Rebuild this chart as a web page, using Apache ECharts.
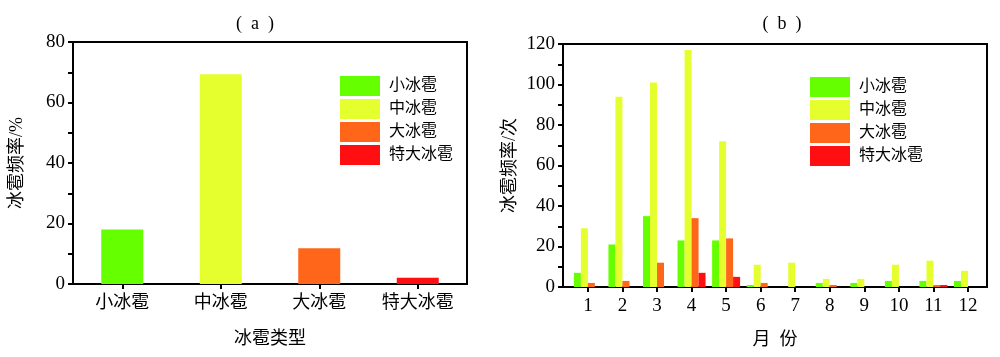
<!DOCTYPE html>
<html><head><meta charset="utf-8">
<script src="https://cdn.jsdelivr.net/npm/echarts@6/dist/echarts.min.js"></script>
<style>html,body{margin:0;padding:0;background:#fff}#c{width:1000px;height:357px}</style>
</head><body><div id="c"></div>
<script>
const typeNames = ['小冰雹', '中冰雹', '大冰雹', '特大冰雹'];
const typeColors = ['#66ff00', '#e5ff2e', '#ff6619', '#ff0f12'];
const typeFreq = [18, 69.3, 11.8, 2.1];
const months = [1,2,3,4,5,6,7,8,9,10,11,12];
const smallHail = [7, 21, 35, 23, 23, 1, 0, 2, 2, 3, 3, 3];
const mediumHail = [29, 94, 101, 117, 72, 11, 12, 4, 4, 11, 13, 8];
const largeHail = [2, 3, 12, 34, 24, 2, 0, 1, 0, 0, 1, 0];
const hugeHail = [0, 0, 0, 7, 5, 0, 0, 0, 0, 0, 1, 0];
const yTicksA = [0, 20, 40, 60, 80];
const yTicksB = [0, 20, 40, 60, 80, 100, 120];

const FONT = "Liberation Serif, Noto Sans CJK SC, serif";
const chart = echarts.init(document.getElementById('c'));
const axisLine = {show: true, lineStyle: {color: '#000', width: 2}};
const tickStyle = {show: true, inside: false, length: 5, lineStyle: {color: '#000', width: 2}};
const minorStyle = {show: true, splitNumber: 2, length: 5, lineStyle: {color: '#000', width: 2}};
const numLabel = {fontFamily: FONT, fontSize: 19, color: '#000'};
const cjkText = {fontFamily: FONT, fontSize: 18, color: '#000'};

const monthSeries = [smallHail, mediumHail, largeHail, hugeHail].map((arr, i) => ({
  name: typeNames[i], type: 'bar', xAxisIndex: 1, yAxisIndex: 1,
  barWidth: 7, barGap: '0%',
  itemStyle: {color: typeColors[i]},
  data: arr.map((v, j) => [months[j], v])
}));

const titleStyle = {fontFamily: FONT, fontSize: 18, fontWeight: 'normal', color: '#000'};

const option = {
  backgroundColor: '#fff',
  animation: false,
  textStyle: {fontFamily: FONT},
  title: [
    {text: '(  a  )', left: 250, top: 10, textAlign: 'center', textStyle: titleStyle},
    {text: '(  b  )', left: 777, top: 10, textAlign: 'center', textStyle: titleStyle}
  ],
  legend: [
    {orient: 'vertical', left: 335, top: 71, itemWidth: 40, itemHeight: 20, itemGap: 3, icon: 'rect',
     data: typeNames.map((n, i) => ({name: n, itemStyle: {color: typeColors[i]}})),
     selectedMode: false, textStyle: {fontFamily: FONT, fontSize: 16, color: '#000', padding: [0, 0, 0, 4]}},
    {orient: 'vertical', left: 805, top: 72, itemWidth: 40, itemHeight: 20, itemGap: 3, icon: 'rect',
     data: typeNames, selectedMode: false,
     textStyle: {fontFamily: FONT, fontSize: 16, color: '#000', padding: [0, 0, 0, 4]}}
  ],
  grid: [
    {left: 73, right: 533, top: 42, bottom: 73, show: true, borderColor: '#000', borderWidth: 2, backgroundColor: 'transparent'},
    {left: 563, right: 13, top: 44, bottom: 70, show: true, borderColor: '#000', borderWidth: 2, backgroundColor: 'transparent'}
  ],
  xAxis: [
    {type: 'category', gridIndex: 0, data: typeNames, boundaryGap: true,
     name: '冰雹类型', nameLocation: 'middle', nameGap: 46,
     nameTextStyle: cjkText,
     axisLine: axisLine, axisTick: Object.assign({alignWithLabel: true}, tickStyle),
     axisLabel: Object.assign({margin: 10}, cjkText),
     splitLine: {show: false}},
    {type: 'value', gridIndex: 1, min: 0.28, max: 12.55,
     name: '月  份', nameLocation: 'middle', nameGap: 44,
     nameTextStyle: cjkText,
     axisLine: axisLine,
     axisTick: Object.assign({customValues: months}, tickStyle),
     axisLabel: Object.assign({customValues: months, margin: 10}, numLabel),
     splitLine: {show: false}}
  ],
  yAxis: [
    {type: 'value', gridIndex: 0, min: 0, max: 80, interval: 20,
     name: '冰雹频率/%', nameLocation: 'middle', nameGap: 47,
     nameTextStyle: cjkText,
     axisLine: axisLine, axisTick: tickStyle, minorTick: minorStyle,
     axisLabel: Object.assign({margin: 8, formatter: v => yTicksA.includes(v) ? String(v) : ''}, numLabel),
     splitLine: {show: false}},
    {type: 'value', gridIndex: 1, min: 0, max: 120, interval: 20,
     name: '冰雹频率/次', nameLocation: 'middle', nameGap: 44,
     nameTextStyle: cjkText,
     axisLine: axisLine, axisTick: tickStyle, minorTick: minorStyle,
     axisLabel: Object.assign({margin: 8, formatter: v => yTicksB.includes(v) ? String(v) : ''}, numLabel),
     splitLine: {show: false}}
  ],
  series: [
    {type: 'bar', xAxisIndex: 0, yAxisIndex: 0, barWidth: 42,
     data: typeFreq.map((v, i) => ({value: v, itemStyle: {color: typeColors[i]}}))}
  ].concat(monthSeries)
};
chart.setOption(option);
</script></body></html>
